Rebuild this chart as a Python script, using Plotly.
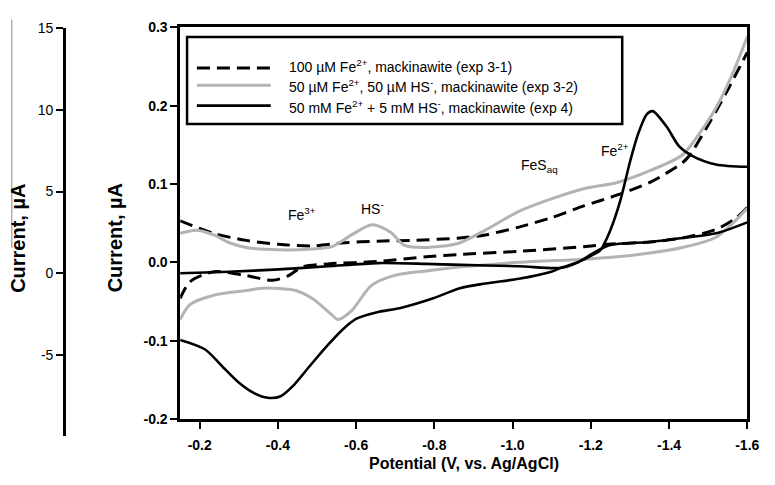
import plotly.graph_objects as go

W, H = 775, 485

# ---- cyclic voltammograms: potential (V vs. Ag/AgCl) and current (uA) ----
# exp 3-1: 100 uM Fe2+, mackinawite
exp31_fwd_v = [-0.150, -0.236, -0.319, -0.402, -0.487, -0.570, -0.654, -0.739, -0.865, -0.930,
               -1.016, -1.099, -1.182, -1.268, -1.351, -1.434, -1.452, -1.502, -1.552, -1.600]
exp31_fwd_i = [0.053, 0.037, 0.028, 0.023, 0.021, 0.025, 0.027, 0.028, 0.031, 0.035,
               0.045, 0.057, 0.072, 0.086, 0.102, 0.127, 0.136, 0.177, 0.222, 0.268]
exp31_rev_v = [-1.600, -1.570, -1.520, -1.434, -1.351, -1.243, -1.182, -1.016, -0.865, -0.779,
               -0.654, -0.528, -0.462, -0.427, -0.386, -0.319, -0.236, -0.175, -0.150]
exp31_rev_i = [0.070, 0.056, 0.042, 0.031, 0.026, 0.023, 0.020, 0.014, 0.010, 0.007,
               0.001, -0.002, -0.006, -0.017, -0.023, -0.017, -0.012, -0.025, -0.046]

# exp 3-2: 50 uM Fe2+, 50 uM HS-, mackinawite
exp32_fwd_v = [-0.150, -0.193, -0.236, -0.276, -0.319, -0.402, -0.487, -0.538, -0.588, -0.641,
               -0.689, -0.722, -0.779, -0.860, -0.930, -1.016, -1.099, -1.182, -1.268, -1.351,
               -1.434, -1.477, -1.520, -1.560, -1.600]
exp32_fwd_i = [0.037, 0.041, 0.035, 0.025, 0.019, 0.016, 0.017, 0.020, 0.035, 0.048,
               0.038, 0.022, 0.019, 0.024, 0.041, 0.065, 0.081, 0.094, 0.102, 0.117,
               0.137, 0.164, 0.197, 0.238, 0.288]
exp32_rev_v = [-1.600, -1.520, -1.434, -1.351, -1.268, -1.182, -1.016, -0.865, -0.779, -0.696,
               -0.638, -0.588, -0.553, -0.538, -0.487, -0.445, -0.361, -0.319, -0.236, -0.175,
               -0.150]
exp32_rev_i = [0.069, 0.032, 0.019, 0.012, 0.007, 0.004, 0.000, -0.006, -0.011, -0.017,
               -0.030, -0.062, -0.073, -0.067, -0.046, -0.036, -0.033, -0.036, -0.042, -0.054,
               -0.073]

# exp 4: 50 mM Fe2+ + 5 mM HS-, mackinawite
exp4_fwd_v = [-0.150, -0.213, -0.256, -0.299, -0.339, -0.374, -0.407, -0.440, -0.482, -0.525,
              -0.565, -0.601, -0.651, -0.716, -0.797, -0.865, -0.930, -1.016, -1.099, -1.124,
              -1.167, -1.207, -1.225, -1.250, -1.275, -1.301, -1.321, -1.343, -1.358, -1.394,
              -1.426, -1.459, -1.520, -1.600]
exp4_fwd_i = [-0.099, -0.111, -0.132, -0.153, -0.167, -0.173, -0.171, -0.157, -0.132, -0.107,
              -0.086, -0.072, -0.064, -0.058, -0.046, -0.033, -0.027, -0.021, -0.012, -0.007,
              0.000, 0.010, 0.016, 0.041, 0.078, 0.130, 0.164, 0.189, 0.193, 0.173,
              0.148, 0.136, 0.125, 0.122]
exp4_rev_v = [-1.600, -1.520, -1.434, -1.351, -1.250, -1.207, -1.167, -1.124, -1.016, -0.847,
              -0.779, -0.654, -0.528, -0.402, -0.276, -0.150]
exp4_rev_i = [0.051, 0.037, 0.031, 0.026, 0.022, 0.012, 0.000, -0.007, -0.005, -0.003,
              -0.002, -0.001, -0.005, -0.009, -0.012, -0.014]

legend_labels = [
    "100 \u00b5M Fe<sup>2+</sup>, mackinawite (exp 3-1)",
    "50 \u00b5M Fe<sup>2+</sup>, 50 \u00b5M HS<sup>-</sup>, mackinawite (exp 3-2)",
    "50 mM Fe<sup>2+</sup> + 5 mM HS<sup>-</sup>, mackinawite (exp 4)",
]

x_ticks = [-0.2, -0.4, -0.6, -0.8, -1.0, -1.2, -1.4, -1.6]
x_ticktext = ["-0.2", "-0.4", "-0.6", "-0.8", "-1.0", "-1.2", "-1.4", "-1.6"]
y_ticks = [-0.2, -0.1, 0.0, 0.1, 0.2, 0.3]
y_ticktext = ["-0.2", "-0.1", "0.0", "0.1", "0.2", "0.3"]
y2_ticks = [-5, 0, 5, 10, 15]
y2_ticktext = ["-5", "0", "5", "10", "15"]

peak_labels = ["Fe<sup>3+</sup>", "HS<sup>-</sup>", "FeS<sub>aq</sub>", "Fe<sup>2+</sup>"]
peak_v = [-0.462, -0.641, -1.069, -1.263]
peak_i = [0.062, 0.069, 0.123, 0.143]

FONT = "Arial, Liberation Sans, sans-serif"
GRAY = "#b3b3b3"
DASH = "13px,7px"


def px(x):
    return x / W


def py(y):
    return 1 - y / H


def loop(fv, fi, rv, ri):
    return fv + [None] + rv, fi + [None] + ri


fig = go.Figure()

styles = [
    (exp31_fwd_v, exp31_fwd_i, exp31_rev_v, exp31_rev_i, dict(color="black", width=3, dash=DASH)),
    (exp32_fwd_v, exp32_fwd_i, exp32_rev_v, exp32_rev_i, dict(color=GRAY, width=3)),
    (exp4_fwd_v, exp4_fwd_i, exp4_rev_v, exp4_rev_i, dict(color="black", width=2.6)),
]
for (fv, fi, rv, ri, ln), name in zip(styles, legend_labels):
    xs, ys = loop(fv, fi, rv, ri)
    ln = dict(ln, shape="spline", smoothing=0.8)
    fig.add_trace(go.Scatter(x=xs, y=ys, mode="lines", line=ln, name=name,
                             connectgaps=False, showlegend=False, hoverinfo="skip"))

# secondary current axis on the far left
fig.add_trace(go.Scatter(x=[None], y=[None], xaxis="x2", yaxis="y2", showlegend=False))

# peak labels
for t, v, i in zip(peak_labels, peak_v, peak_i):
    fig.add_annotation(x=v, y=i, xref="x", yref="y", text=t, showarrow=False,
                       xanchor="center", yanchor="middle",
                       font=dict(family=FONT, size=14, color="black"))

axis_common = dict(showline=True, linecolor="black", linewidth=2.5, ticks="outside",
                   ticklen=7, tickwidth=2, tickcolor="black", showgrid=False, zeroline=False)

fig.update_layout(
    width=W, height=H,
    margin=dict(l=0, r=0, t=0, b=0),
    paper_bgcolor="white", plot_bgcolor="white",
    showlegend=False,
    xaxis=dict(domain=[px(183), px(759)], range=[-0.15, -1.6], mirror=True,
               tickvals=x_ticks, ticktext=x_ticktext, ticklabelstandoff=4,
               tickfont=dict(family=FONT, size=14, color="black", weight="bold"),
               **axis_common),
    yaxis=dict(domain=[py(425), py(20)], range=[-0.2, 0.3], mirror=True,
               tickvals=y_ticks, ticktext=y_ticktext,
               tickfont=dict(family=FONT, size=14, color="black", weight="bold"),
               **axis_common),
    xaxis2=dict(domain=[px(67), px(68)], range=[0, 1], visible=False),
    yaxis2=dict(domain=[py(443), py(21)], range=[-10, 15], anchor="x2",
                tickvals=y2_ticks, ticktext=y2_ticktext,
                tickfont=dict(family=FONT, size=14, color="black"),
                **axis_common),
)

# axis titles
fig.add_annotation(x=px(471), y=py(471), xref="paper", yref="paper",
                   xanchor="center", yanchor="middle",
                   text="Potential (V, vs. Ag/AgCl)", showarrow=False,
                   font=dict(family=FONT, size=16, color="black", weight="bold"))
for tx in (117, 18):
    fig.add_annotation(x=px(tx), y=py(238), xref="paper", yref="paper", textangle=-90,
                       xanchor="center", yanchor="middle",
                       text="Current, \u00b5A", showarrow=False,
                       font=dict(family=FONT, size=20, color="black", weight="bold"))

# thin gray rule at the far left edge
fig.add_shape(type="line", xref="paper", yref="paper", x0=px(12), x1=px(12),
              y0=py(12), y1=py(248), line=dict(color="#888888", width=1))

# legend box
fig.add_shape(type="rect", xref="paper", yref="paper", x0=px(190), x1=px(632),
              y0=py(120), y1=py(30), line=dict(color="black", width=2.5),
              fillcolor="white", layer="above")
sample_y = [62, 80, 101]
text_y = [60, 81, 102]
for (_, _, _, _, ln), label, sy, ty in zip(styles, legend_labels, sample_y, text_y):
    fig.add_shape(type="line", xref="paper", yref="paper", x0=px(200), x1=px(275),
                  y0=py(sy), y1=py(sy), line=ln, layer="above")
    fig.add_annotation(x=px(292), y=py(ty), xref="paper", yref="paper", text=label,
                       showarrow=False, xanchor="left", yanchor="middle",
                       font=dict(family=FONT, size=14, color="black"))

fig.write_html("out.html")
